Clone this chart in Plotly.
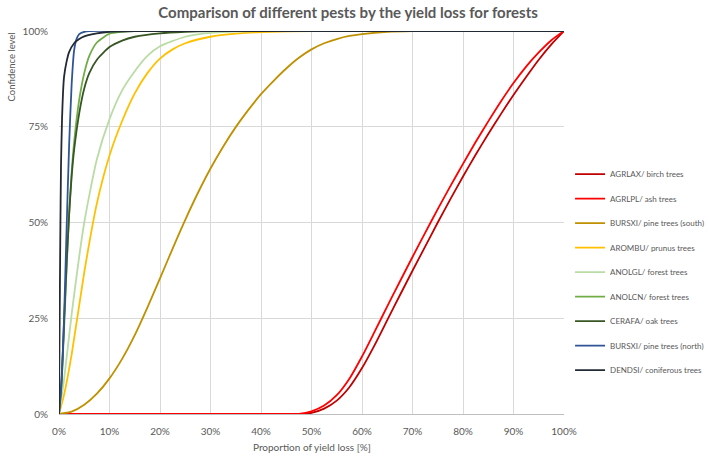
import plotly.graph_objects as go

# ---------------- data ----------------
names = ["AGRLAX/ birch trees", "AGRLPL/ ash trees", "BURSXI/ pine trees (south)",
         "AROMBU/ prunus trees", "ANOLGL/ forest trees", "ANOLCN/ forest trees",
         "CERAFA/ oak trees", "BURSXI/ pine trees (north)", "DENDSI/ coniferous trees"]
colors = ["#C00000", "#FF0000", "#BF9000", "#FFC000", "#B9DCA4", "#70AD47",
          "#375623", "#2F5597", "#222A35"]

x_agrlax = [0, 47, 50, 52.5, 55, 57.5, 60, 62.5, 65, 67.5, 70, 72.5, 75, 77.5, 80, 82.5, 85, 87.5, 90, 92.5, 95, 97.5, 100]
y_agrlax = [0, 0, 0.3, 1.4, 3.5, 7, 12, 18, 24.5, 31, 37.4, 43.7, 50, 56.1, 62, 67.7, 73.1, 78.3, 83.3, 88, 92.5, 96.5, 100]

x_agrlpl = [0, 46, 47.5, 50, 52.5, 55, 57.5, 60, 62.5, 65, 67.5, 70, 72.5, 75, 77.5, 80, 82.5, 85, 87.5, 90, 92.5, 95, 97.5, 100]
y_agrlpl = [0, 0, 0.05, 0.7, 2.2, 4.9, 9.2, 15, 21.5, 28.1, 34.6, 41, 47.3, 53.5, 59.5, 65.3, 71, 76.4, 81.6, 86.4, 90.7, 94.4, 97.6, 100]

x_bursxi_s = [0, 2.5, 5, 7.5, 10, 12.5, 15, 17.5, 20, 22.5, 25, 27.5, 30, 32.5, 35, 37.5, 40, 42.5, 45, 47.5, 50, 52.5, 55, 57.5, 60, 65, 70, 100]
y_bursxi_s = [0, 0.6, 2.4, 5.3, 9.3, 14.4, 20.6, 27.8, 35.4, 43.2, 50.7, 57.7, 64.1, 69.8, 74.9, 79.4, 83.5, 87, 90.2, 93, 95.2, 96.8, 97.9, 98.7, 99.2, 99.8, 100, 100]

x_arombu = [0, 1, 2.5, 5, 7.5, 10, 12.5, 15, 17.5, 20, 22.5, 25, 30, 35, 40, 50, 100]
y_arombu = [0, 5, 15.5, 37, 55, 67.5, 76.5, 83.7, 89, 92.8, 95.2, 96.8, 98.5, 99.3, 99.7, 100, 100]

x_anolgl = [0, 1, 2.5, 5, 7.5, 10, 12.5, 15, 17.5, 20, 25, 30, 40, 100]
y_anolgl = [0, 9, 26, 50, 66.5, 77, 84.5, 89.5, 93.5, 96, 98.5, 99.5, 100, 100]

x_anolcn = [0, 0.5, 1, 1.5, 2, 2.5, 3, 4, 5, 6, 7.5, 10, 12.5, 15, 100]
y_anolcn = [0, 8, 22, 38, 52, 63, 71, 82, 89, 93.5, 97, 99.3, 99.8, 100, 100]

x_cerafa = [0, 0.5, 1, 1.5, 2, 2.5, 3, 4, 5, 6, 7.5, 10, 12.5, 15, 20, 25, 30, 100]
y_cerafa = [0, 9, 24, 39, 52, 62, 69, 78.5, 85, 89, 92.5, 95.8, 97.5, 98.5, 99.4, 99.8, 100, 100]

x_bursxi_n = [0, 0.5, 1, 1.5, 2, 2.5, 3, 3.5, 4, 5, 6, 100]
y_bursxi_n = [0, 8, 25, 48, 70, 86, 95, 98, 99.2, 99.8, 100, 100]

x_dendsi = [0, 0.1, 0.25, 0.4, 0.6, 0.8, 1, 1.5, 2, 3, 4, 5, 7.5, 10, 15, 100]
y_dendsi = [0, 20, 45, 65, 77, 84, 88, 92, 94.5, 96.8, 97.9, 98.6, 99.4, 99.8, 100, 100]

x_ticks = [0, 10, 20, 30, 40, 50, 60, 70, 80, 90, 100]
x_ticklabels = ["0%", "10%", "20%", "30%", "40%", "50%", "60%", "70%", "80%", "90%", "100%"]
y_ticks = [0, 25, 50, 75, 100]
y_ticklabels = ["0%", "25%", "50%", "75%", "100%"]

series = [(x_agrlax, y_agrlax), (x_agrlpl, y_agrlpl), (x_bursxi_s, y_bursxi_s),
          (x_arombu, y_arombu), (x_anolgl, y_anolgl), (x_anolcn, y_anolcn),
          (x_cerafa, y_cerafa), (x_bursxi_n, y_bursxi_n), (x_dendsi, y_dendsi)]

FONT = "Lato"
GREY = "#595959"

fig = go.Figure()
for i, ((xs, ys), nm, col) in enumerate(zip(series, names, colors)):
    fig.add_trace(go.Scatter(
        x=xs, y=ys, name=nm, mode="lines",
        line=dict(color=col, width=1.8, shape="spline", smoothing=0.6),
        legendgroup=f"g{i}",
    ))

fig.update_layout(
    width=709, height=456,
    paper_bgcolor="white", plot_bgcolor="white",
    margin=dict(l=59, r=145, t=31, b=42, autoexpand=False),
    font=dict(family=FONT, color=GREY, size=10),
    title=dict(text="<b>Comparison of different pests by the yield loss for forests</b>",
               x=0.491, xanchor="center", xref="container", y=0.972, yanchor="middle", yref="container",
               font=dict(family=FONT, size=15, color=GREY)),
    showlegend=True,
    legend=dict(x=1.012, xanchor="left", y=0.664, yanchor="top",
                font=dict(family=FONT, size=8, color=GREY),
                tracegroupgap=5.5, bgcolor="rgba(0,0,0,0)"),
    xaxis=dict(range=[0, 100], tickvals=x_ticks, ticktext=x_ticklabels,
               showgrid=True, gridcolor="#D9D9D9", gridwidth=1,
               zeroline=False, showline=True, linecolor="#BFBFBF", linewidth=1,
               ticks="", ticklabelstandoff=8, tickfont=dict(size=10, color=GREY)),
    yaxis=dict(range=[0, 100], tickvals=y_ticks, ticktext=y_ticklabels,
               showgrid=True, gridcolor="#D9D9D9", gridwidth=1,
               zeroline=False, showline=False,
               ticks="", ticklabelstandoff=10, tickfont=dict(size=10, color=GREY)),
    annotations=[
        dict(text="Proportion of yield loss [%]", x=0.5, xref="paper", y=-0.085, yref="paper",
             xanchor="center", yanchor="middle", showarrow=False,
             font=dict(family=FONT, size=10, color=GREY)),
        dict(text="Confidence level", x=-0.095, xref="paper", y=0.905, yref="paper",
             xanchor="center", yanchor="middle", showarrow=False, textangle=-90,
             font=dict(family=FONT, size=9.5, color=GREY)),
    ],
)

fig.write_html("out.html", config={"displayModeBar": False},
               post_script="document.body.style.margin='0px';")
